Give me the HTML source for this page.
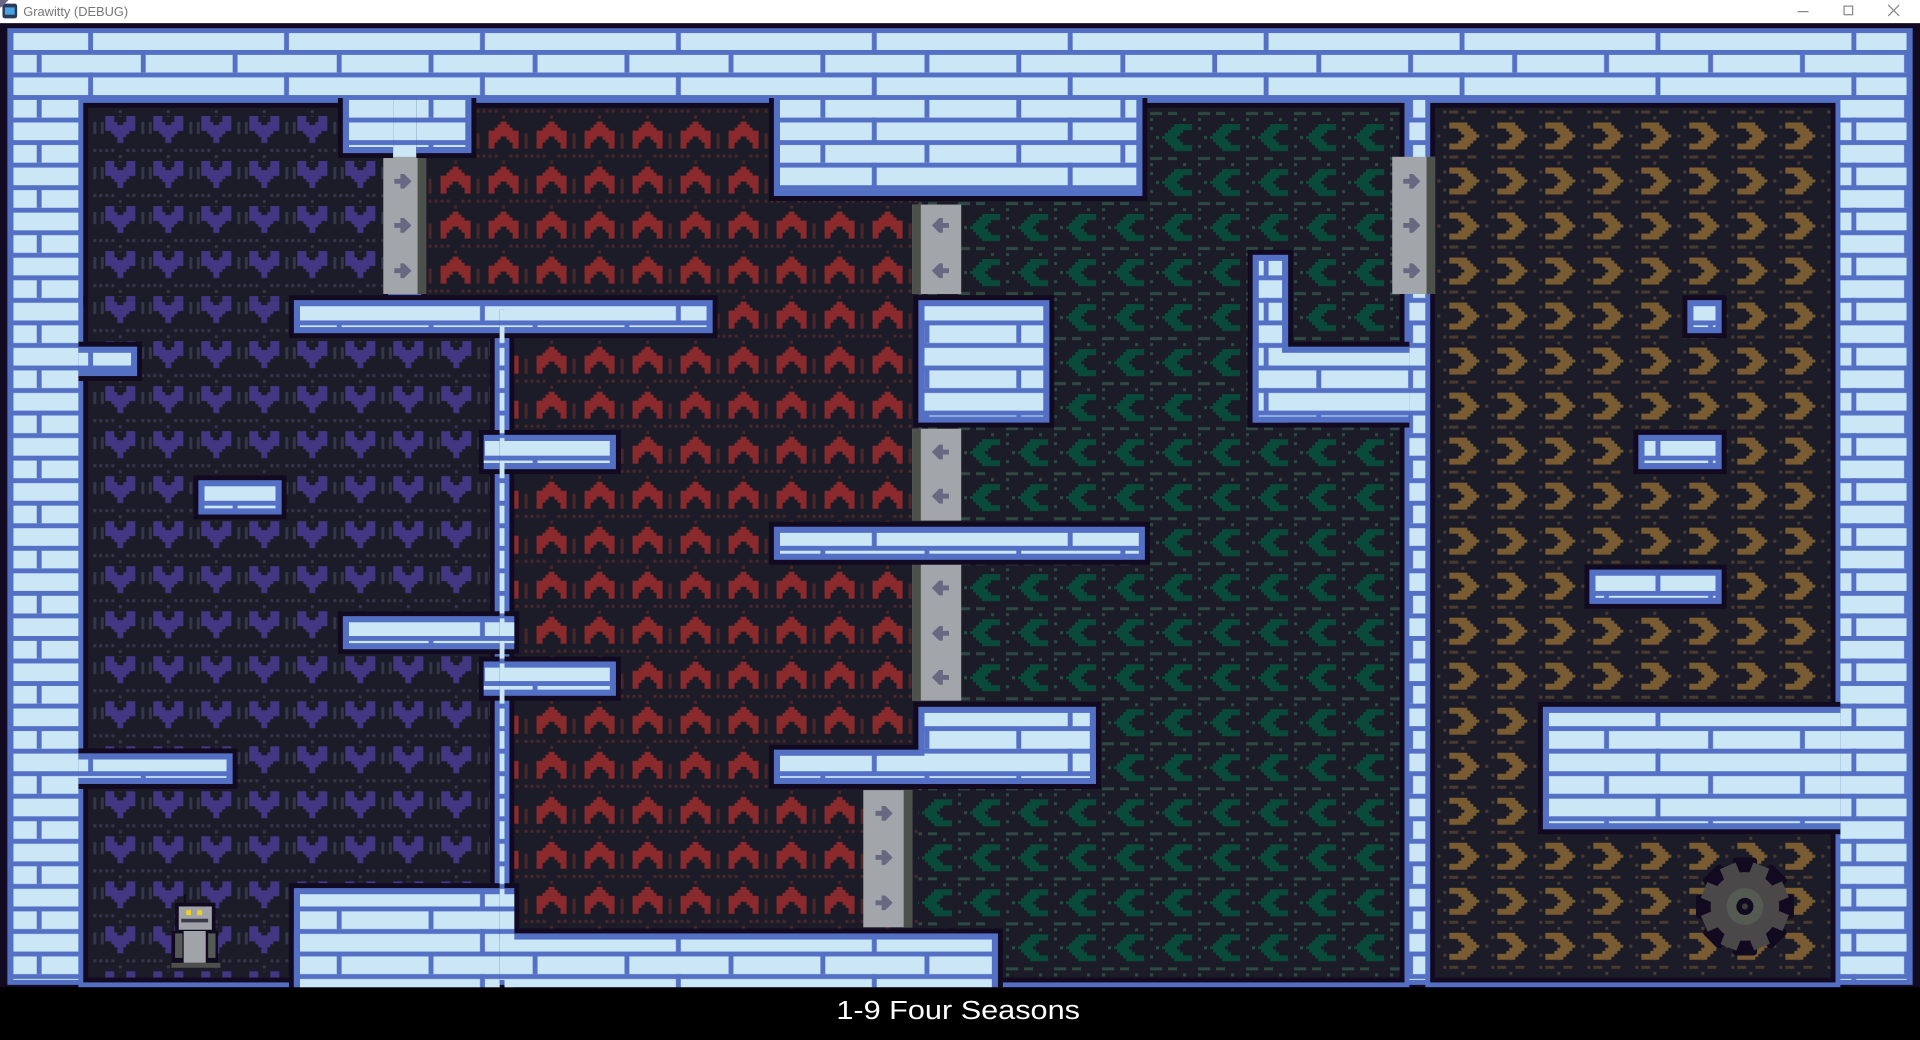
<!DOCTYPE html>
<html><head><meta charset="utf-8">
<style>
html,body{margin:0;padding:0;background:#000;overflow:hidden}
svg{display:block}
</style></head>
<body>
<svg width="1920" height="1040" viewBox="0 0 1568 849" preserveAspectRatio="none" xmlns="http://www.w3.org/2000/svg">
<defs>
  <pattern id="brick" patternUnits="userSpaceOnUse" width="160" height="36.8" x="0" y="4">
    <rect width="160" height="36.8" fill="#cbe7f6"/>
    <rect y="0" width="160" height="4" fill="#5470c4"/>
    <rect y="18.4" width="160" height="4" fill="#5470c4"/>
    <rect x="30" y="0" width="4" height="18.4" fill="#5470c4"/>
    <rect x="115" y="0" width="4" height="18.4" fill="#5470c4"/>
    <rect x="72" y="18.4" width="4" height="18.4" fill="#5470c4"/>
  </pattern>
  <pattern id="pp" patternUnits="userSpaceOnUse" width="16" height="15" patternTransform="translate(86,94.7) scale(2.45)">
    <rect width="16" height="15" fill="#1c1c28"/>
    <g fill="#35354c">
      <rect x="12" y="2" width="1" height="4"/><rect x="4.5" y="-1" width="1" height="1.3"/>
      <rect x="0" y="11" width="1" height="1"/><rect x="2" y="11" width="1" height="1"/>
      <rect x="7" y="11" width="1" height="1"/><rect x="9" y="11" width="1" height="1"/>
      <rect x="12" y="11" width="1" height="1"/><rect x="14" y="11" width="1" height="1"/>
      <rect x="4.5" y="13" width="1" height="1"/><rect x="14.5" y="2" width="1" height="4"/>
    </g>
    <polygon fill="#433682" points="0,0 3,0 3,2 4,2 4,3 6,3 6,2 7,2 7,0 10,0 10,5 8,5 8,6 7,6 7,7 6,7 6,9 4,9 4,7 3,7 3,6 2,6 2,5 0,5"/>
  </pattern>
  <pattern id="rp" patternUnits="userSpaceOnUse" width="16" height="15" patternTransform="translate(595,136) scale(2.45)">
    <rect width="16" height="15" fill="#1c1c28"/>
    <g fill="#4c2628">
      <rect x="12" y="4" width="1" height="5"/><rect x="4.5" y="-4" width="1" height="1"/>
      <rect x="0" y="11" width="1" height="1"/><rect x="2" y="11" width="1" height="1"/>
      <rect x="7" y="11" width="1" height="1"/><rect x="9" y="11" width="1" height="1"/>
      <rect x="12" y="11" width="1" height="1"/><rect x="14" y="11" width="1" height="1"/>
      <rect x="4.5" y="13" width="1" height="1"/>
    </g>
    <polygon fill="#8b2a2c" points="4,0 6,0 6,1 7,1 7,2 8,2 8,3 10,3 10,9 8,9 8,7 7,7 7,6 6,6 6,5 4,5 4,6 3,6 3,7 2,7 2,9 0,9 0,3 2,3 2,2 3,2 3,1 4,1"/>
  </pattern>
  <pattern id="gp" patternUnits="userSpaceOnUse" width="16" height="15" patternTransform="translate(949,579) scale(2.45)">
    <rect width="16" height="15" fill="#1c1c28"/>
    <g fill="#2f4a42">
      <rect x="12" y="1" width="1" height="1"/><rect x="12" y="7" width="1" height="1"/>
      <rect x="14" y="4" width="1" height="1"/><rect x="-3" y="11" width="3" height="1"/>
      <rect x="2" y="11" width="3" height="1"/><rect x="12" y="11" width="1" height="1"/>
      <rect x="12" y="13" width="1" height="1"/><rect x="7" y="13" width="1" height="1"/>
      <rect x="13" y="11" width="3" height="1"/>
    </g>
    <polygon fill="#0a4a3b" points="4,0 10,0 10,2 7,2 7,3 6,3 6,4 5,4 5,5 6,5 6,6 7,6 7,7 10,7 10,9 4,9 4,8 3,8 3,7 2,7 2,6 1,6 1,5 0,5 0,4 1,4 1,3 2,3 2,2 3,2 3,1 4,1"/>
  </pattern>
  <pattern id="bp" patternUnits="userSpaceOnUse" width="16" height="15" patternTransform="translate(1262,247) scale(2.45)">
    <rect width="16" height="15" fill="#1c1c28"/>
    <g fill="#4a3c2c">
      <rect x="-2" y="1" width="1" height="1"/><rect x="-2" y="7" width="1" height="1"/>
      <rect x="-4" y="4" width="1" height="1"/><rect x="12" y="4" width="1" height="1"/>
      <rect x="0" y="11" width="3" height="1"/><rect x="6" y="11" width="3" height="1"/>
      <rect x="14" y="1" width="1" height="1"/><rect x="14" y="7" width="1" height="1"/>
      <rect x="14" y="11" width="1" height="1"/><rect x="4" y="13" width="1" height="1"/>
    </g>
    <polygon fill="#7a5c32" points="6,0 0,0 0,2 3,2 3,3 4,3 4,4 5,4 5,5 4,5 4,6 3,6 3,7 0,7 0,9 6,9 6,8 7,8 7,7 8,7 8,6 9,6 9,5 10,5 10,4 9,4 9,3 8,3 8,2 7,2 7,1 6,1"/>
  </pattern>
  <clipPath id="zc">
    <rect x="64" y="80" width="257" height="173"/>
    <rect x="64" y="237" width="344" height="569"/>
    <rect x="340" y="80" width="418" height="173"/>
    <rect x="412" y="237" width="346" height="569"/>
    <rect x="742" y="80" width="409" height="726"/>
    <rect x="1164" y="80" width="339" height="726"/>
  </clipPath>
</defs>

<rect x="0" y="0" width="1568" height="19" fill="#ffffff"/>
<rect x="2" y="3" width="12" height="12" rx="2" fill="#2a3a5a"/>
<rect x="4" y="6" width="8" height="6" fill="#4aa0e0"/>
<text x="19" y="13" font-family="Liberation Sans, sans-serif" font-size="10.5" fill="#777">Grawitty (DEBUG)</text>
<rect x="1468" y="9" width="9" height="1" fill="#888"/>
<rect x="1506" y="5" width="7" height="7" fill="none" stroke="#888" stroke-width="1"/>
<path d="M1542 4 L1551 13 M1551 4 L1542 13" stroke="#888" stroke-width="1"/>

<rect x="0" y="19" width="1568" height="787" fill="#120a20"/>
<rect x="6" y="23" width="1556" height="781" fill="#5470c4"/>
<rect x="11" y="27" width="1546" height="773" fill="url(#brick)"/>

<g fill="#5470c4">
  <rect x="64" y="80" width="257" height="173"/>
  <rect x="64" y="237" width="344" height="569"/>
  <rect x="340" y="80" width="418" height="173"/>
  <rect x="412" y="237" width="346" height="569"/>
  <rect x="742" y="80" width="409" height="726"/>
  <rect x="1164" y="80" width="339" height="726"/>
</g>
<g fill="#120a20">
  <rect x="68" y="84" width="249" height="165"/>
  <rect x="68" y="241" width="336" height="561"/>
  <rect x="344" y="84" width="410" height="165"/>
  <rect x="416" y="241" width="338" height="561"/>
  <rect x="746" y="84" width="401" height="718"/>
  <rect x="1168" y="84" width="331" height="718"/>
</g>
<rect x="72" y="88" width="241" height="157" fill="url(#pp)"/>
<rect x="72" y="245" width="328" height="553" fill="url(#pp)"/>
<rect x="348" y="88" width="402" height="157" fill="url(#rp)"/>
<rect x="420" y="245" width="330" height="553" fill="url(#rp)"/>
<rect x="750" y="88" width="393" height="710" fill="url(#gp)"/>
<rect x="1172" y="88" width="323" height="710" fill="url(#bp)"/>

<g>
  <rect x="313" y="128" width="35" height="112" fill="#a2a5a9"/><rect x="341" y="128" width="7" height="112" fill="#4d514c"/>
  <rect x="745" y="167" width="40" height="73" fill="#a2a5a9"/><rect x="745" y="167" width="7" height="73" fill="#4d514c"/>
  <rect x="745" y="350" width="40" height="75" fill="#a2a5a9"/><rect x="745" y="350" width="7" height="75" fill="#4d514c"/>
  <rect x="745" y="460" width="40" height="112" fill="#a2a5a9"/><rect x="745" y="460" width="7" height="112" fill="#4d514c"/>
  <rect x="705" y="645" width="40" height="112" fill="#a2a5a9"/><rect x="738" y="645" width="7" height="112" fill="#4d514c"/>
  <rect x="1137" y="128" width="35" height="112" fill="#a2a5a9"/><rect x="1165" y="128" width="7" height="112" fill="#4d514c"/>
</g>
<g fill="#686882">
  <g id="ar"><polygon points="-7,-2 -2,-2 -2,-6 1,-6 7,0 1,6 -2,6 -2,2 -7,2"/></g>
  <use href="#ar" x="329" y="148"/><use href="#ar" x="329" y="184"/><use href="#ar" x="329" y="221"/>
  <use href="#ar" x="722" y="664"/><use href="#ar" x="722" y="700"/><use href="#ar" x="722" y="737"/>
  <use href="#ar" x="1153" y="148"/><use href="#ar" x="1153" y="184"/><use href="#ar" x="1153" y="221"/>
  <g transform="translate(1536,0) scale(-1,1)">
    <use href="#ar" x="768" y="184"/><use href="#ar" x="768" y="221"/>
    <use href="#ar" x="768" y="369"/><use href="#ar" x="768" y="405"/>
    <use href="#ar" x="768" y="480"/><use href="#ar" x="768" y="517"/><use href="#ar" x="768" y="553"/>
  </g>
</g>

<g clip-path="url(#zc)">
  <g fill="#120a20">
    <rect x="276" y="56" width="113" height="73"/>
    <rect x="628" y="56" width="309" height="108"/>
    <rect x="36" y="279" width="80" height="32"/>
    <rect x="36" y="611" width="158" height="33"/>
    <rect x="158" y="388" width="76" height="36"/>
    <rect x="236" y="241" width="350" height="35"/>
    <rect x="391" y="351" width="116" height="36"/>
    <rect x="276" y="499" width="148" height="35"/>
    <rect x="391" y="536" width="116" height="36"/>
    <rect x="236" y="721" width="188" height="108"/>
    <rect x="236" y="758" width="583" height="68"/>
    <rect x="746" y="241" width="115" height="108"/>
    <rect x="628" y="426" width="311" height="35"/>
    <rect x="746" y="573" width="153" height="71"/>
    <rect x="628" y="608" width="271" height="36"/>
    <rect x="1019" y="204" width="37" height="145"/>
    <rect x="1019" y="279" width="138" height="70"/>
    <rect x="1374" y="241" width="36" height="35"/>
    <rect x="1334" y="351" width="76" height="36"/>
    <rect x="1294" y="461" width="116" height="36"/>
    <rect x="1256" y="573" width="338" height="108"/>
  </g>
  <g fill="#5470c4">
    <rect x="280" y="60" width="105" height="65"/>
    <rect x="632" y="60" width="301" height="100"/>
    <rect x="40" y="283" width="72" height="24"/>
    <rect x="40" y="615" width="150" height="25"/>
    <rect x="162" y="392" width="68" height="28"/>
    <rect x="240" y="245" width="342" height="27"/>
    <rect x="395" y="355" width="108" height="28"/>
    <rect x="280" y="503" width="140" height="27"/>
    <rect x="395" y="540" width="108" height="28"/>
    <rect x="240" y="725" width="180" height="100"/>
    <rect x="240" y="762" width="575" height="60"/>
    <rect x="750" y="245" width="107" height="100"/>
    <rect x="632" y="430" width="303" height="27"/>
    <rect x="750" y="577" width="145" height="63"/>
    <rect x="632" y="612" width="263" height="28"/>
    <rect x="1023" y="208" width="29" height="137"/>
    <rect x="1023" y="283" width="130" height="62"/>
    <rect x="1378" y="245" width="28" height="27"/>
    <rect x="1338" y="355" width="68" height="28"/>
    <rect x="1298" y="465" width="108" height="28"/>
    <rect x="1260" y="577" width="330" height="100"/>
  </g>
  <g fill="url(#brick)">
    <rect x="285" y="60" width="95" height="60"/>
    <rect x="637" y="60" width="291" height="95"/>
    <rect x="40" y="288" width="67" height="14"/>
    <rect x="40" y="620" width="145" height="15"/>
    <rect x="167" y="397" width="58" height="18"/>
    <rect x="245" y="250" width="332" height="17"/>
    <rect x="395" y="360" width="103" height="18"/>
    <rect x="285" y="508" width="135" height="17"/>
    <rect x="395" y="545" width="103" height="18"/>
    <rect x="245" y="730" width="175" height="95"/>
    <rect x="245" y="767" width="565" height="55"/>
    <rect x="755" y="250" width="97" height="90"/>
    <rect x="637" y="435" width="293" height="17"/>
    <rect x="755" y="582" width="135" height="53"/>
    <rect x="637" y="617" width="253" height="18"/>
    <rect x="1028" y="213" width="19" height="127"/>
    <rect x="1028" y="288" width="125" height="52"/>
    <rect x="1383" y="250" width="18" height="17"/>
    <rect x="1343" y="360" width="58" height="18"/>
    <rect x="1303" y="470" width="98" height="18"/>
    <rect x="1265" y="582" width="325" height="90"/>
  </g>
</g>

<g>
  <rect x="150" y="730" width="2" height="8" fill="#120a20"/>
  <rect x="143" y="737" width="33" height="25" fill="#120a20"/>
  <rect x="146" y="740" width="27" height="19" fill="#a0a4a8"/>
  <rect x="152" y="743" width="4" height="4" fill="#f0d020"/><rect x="161" y="743" width="4" height="4" fill="#f0d020"/>
  <rect x="148" y="750" width="22" height="3" fill="#3a3a48"/>
  <rect x="140" y="760" width="38" height="28" fill="#120a20"/>
  <rect x="143" y="762" width="6" height="20" fill="#555a55"/><rect x="170" y="762" width="6" height="20" fill="#555a55"/>
  <rect x="150" y="760" width="18" height="26" fill="#a0a4a8"/>
  <rect x="140" y="786" width="40" height="4" fill="#4d514c"/>
</g>

<g transform="translate(1425,740)">
  <g fill="#120a20">
    <circle r="32"/>
    <rect x="-10" y="-40" width="20" height="80" rx="3"/>
    <rect x="-10" y="-40" width="20" height="80" rx="3" transform="rotate(45)"/>
    <rect x="-10" y="-40" width="20" height="80" rx="3" transform="rotate(90)"/>
    <rect x="-10" y="-40" width="20" height="80" rx="3" transform="rotate(135)"/>
  </g>
  <g fill="#4a4848">
    <circle r="28"/>
    <rect x="-7" y="-36" width="14" height="72" transform="rotate(22)"/>
    <rect x="-7" y="-36" width="14" height="72" transform="rotate(67)"/>
    <rect x="-7" y="-36" width="14" height="72" transform="rotate(112)"/>
    <rect x="-7" y="-36" width="14" height="72" transform="rotate(157)"/>
  </g>
  <circle r="15" fill="#555a52"/>
  <circle r="7" fill="#120a20"/>
  <circle r="2.5" fill="#3a3d3a"/>
</g>

<rect x="0" y="806" width="1568" height="43" fill="#000"/>
<text x="683" y="832" font-family="Liberation Sans, sans-serif" font-size="21" fill="#fff" textLength="199" lengthAdjust="spacingAndGlyphs">1-9 Four Seasons</text>
</svg>
</body></html>
